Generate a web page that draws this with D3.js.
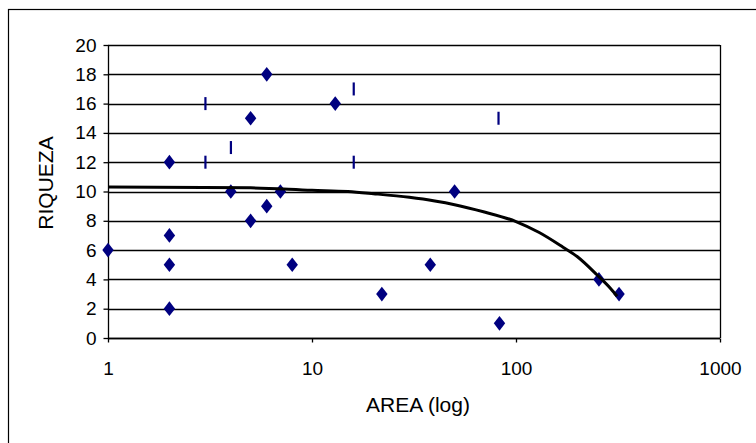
<!DOCTYPE html>
<html><head><meta charset="utf-8">
<script src="https://cdn.jsdelivr.net/npm/d3@7"></script>
<style>body{margin:0;background:#fff}svg{display:block}text{font-family:"Liberation Sans",Arial,sans-serif;fill:#000}</style>
</head><body>
<svg id="c" width="756" height="443"></svg>
<script>
// Series 1: diamonds (AREA, RIQUEZA)
const diamondArea = [1, 2, 2, 2, 2, 4, 5, 5, 6, 6, 7, 8, 13, 22, 38, 50, 83, 255, 320];
const diamondRiq  = [6, 12, 7, 5, 2, 10, 15, 8, 18, 9, 10, 5, 16, 3, 5, 10, 1, 4, 3];
// Series 2: vertical dash markers
const dashArea = [3, 3, 4, 16, 16, 82];
const dashRiq  = [16, 12, 13, 17, 12, 15];
// Fitted curve
const curveArea = [1, 5, 10, 15, 20, 30, 40, 50, 70, 100, 130, 170, 200, 250, 290, 313];
const curveRiq  = [10.3, 10.25, 10.08, 10.0, 9.85, 9.6, 9.35, 9.1, 8.6, 7.95, 7.2, 6.2, 5.55, 4.3, 3.4, 2.85];
// Axis ticks
const xTicks = [1, 10, 100, 1000];
const yTicks = [0, 2, 4, 6, 8, 10, 12, 14, 16, 18, 20];

const svg = d3.select("#c");
const L = 108, R = 720, T = 45, B = 338;
const x = d3.scaleLog().domain([1, 1000]).range([L, R]);
const y = d3.scaleLinear().domain([0, 20]).range([B, T]);
const FONT = '"Liberation Sans",Arial,sans-serif';

// outer border
svg.append("rect").attr("x", 8.5).attr("y", 9.5).attr("width", 800).attr("height", 500)
  .attr("fill", "none").attr("stroke", "#000").attr("stroke-width", 1.2);

// gridlines
svg.append("g").selectAll("line").data(yTicks).join("line")
  .attr("x1", L).attr("x2", R)
  .attr("y1", d => Math.round(y(d)) + 0.5).attr("y2", d => Math.round(y(d)) + 0.5)
  .attr("stroke", "#000").attr("stroke-width", 1.3);
// right border of plot
svg.append("line").attr("x1", R + 0.5).attr("x2", R + 0.5).attr("y1", T).attr("y2", B)
  .attr("stroke", "#000").attr("stroke-width", 1.3);

// y axis
const yAxis = svg.append("g").attr("transform", `translate(${L + 0.5},0)`)
  .call(d3.axisLeft(y).tickValues(yTicks).tickSize(5).tickPadding(7).tickFormat(d3.format("d")));
yAxis.selectAll("path,line").attr("stroke", "#000").attr("stroke-width", 1.3);
yAxis.select(".domain").attr("d", `M0,${T}V${B}`);
yAxis.selectAll("text").attr("font-size", 19).attr("font-family", FONT);

// x axis
const xAxis = svg.append("g").attr("transform", `translate(0,${Math.round(B) + 0.5})`)
  .call(d3.axisBottom(x).tickValues(xTicks).tickSize(4).tickPadding(19).tickFormat(d3.format("d")));
xAxis.selectAll("path,line").attr("stroke", "#000").attr("stroke-width", 1.3);
xAxis.select(".domain").attr("d", `M${L},0H${R}`);
xAxis.selectAll("text").attr("font-size", 19).attr("font-family", FONT);

// diamonds
const sym = d3.symbol().type(d3.symbolDiamond).size(62);
svg.append("g").selectAll("path").data(diamondArea.map((a, i) => [a, diamondRiq[i]])).join("path")
  .attr("d", sym).attr("transform", d => `translate(${x(d[0])},${y(d[1])}) scale(1.35,1)`)
  .attr("fill", "#000080");

// dashes
svg.append("g").selectAll("rect").data(dashArea.map((a, i) => [a, dashRiq[i]])).join("rect")
  .attr("x", d => x(d[0]) - 1).attr("y", d => y(d[1]) - 6.5)
  .attr("width", 2.2).attr("height", 13).attr("fill", "#000080");

// curve
svg.append("path").datum(curveArea.map((a, i) => [a, curveRiq[i]]))
  .attr("d", d3.line().x(d => x(d[0])).y(d => y(d[1])).curve(d3.curveMonotoneX))
  .attr("fill", "none").attr("stroke", "#000").attr("stroke-width", 3);

// axis titles
svg.append("text").attr("x", 418).attr("y", 412).attr("text-anchor", "middle")
  .attr("font-size", 21).text("AREA (log)");
svg.append("text").attr("transform", "translate(53,183) rotate(-90)").attr("text-anchor", "middle")
  .attr("font-size", 21).text("RIQUEZA");
</script>
</body></html>
